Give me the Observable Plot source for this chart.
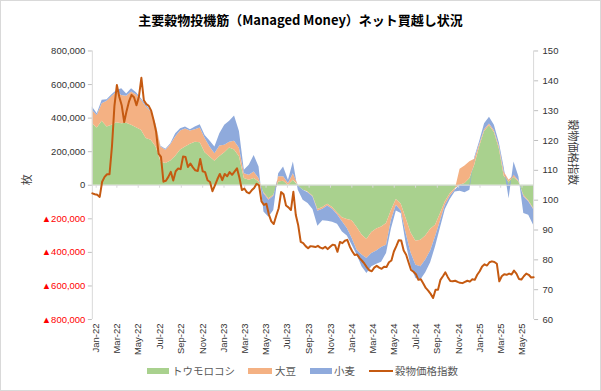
<!DOCTYPE html>
<html><head><meta charset="utf-8">
<script src="https://cdn.jsdelivr.net/npm/d3@7"></script>
<script src="https://cdn.jsdelivr.net/npm/@observablehq/plot@0.6"></script>
<style>
body{margin:0;background:#fff;}
#chart{position:relative;width:601px;height:391px;box-sizing:border-box;border:1px solid #d9d9d9;overflow:hidden;background:#fff;}
#title{position:absolute;left:-1px;top:-1px;width:601px;height:40px;line-height:40px;text-align:center;font-family:"Noto Sans CJK JP",sans-serif;font-weight:bold;font-size:13px;color:#000;}
#plot{position:absolute;left:-1px;top:39px;}
.lg{position:absolute;font-family:"Noto Sans CJK JP",sans-serif;font-size:10.5px;color:#595959;line-height:14px;top:363px;white-space:nowrap;}
.sw{position:absolute;}
</style></head>
<body>
<div id="chart">
  <div id="title">主要穀物投機筋（Managed Money）ネット買越し状況</div>
  <div id="plot"></div>
  <div id="legend"></div>
</div>
<script>
// ---- data ----
const startDate = "2021-12-21";   // first observation; positions biweekly, price weekly
const crops = ["トウモロコシ", "大豆", "小麦"];
const cropColors = ["#a9d18e", "#f4b183", "#8faadc"];
const priceLabel = "穀物価格指数";
const priceColor = "#c55a11";

// net positions, thousand contracts, biweekly
const cornK = [367,341,381,347,357,373,367,369,357,343,
327,278,268,228,139,129,145,173,210,228,
244,256,254,194,169,143,171,194,222,210,
170,40,30,40,20,-45,-80,-60,20,24,
0,30,-5,-30,-40,-65,-145,-133,-113,-133,
-165,-194,-204,-212,-252,-297,-323,-282,-260,-248,
-228,-150,-85,-113,-198,-284,-333,-327,-303,-262,
-238,-170,-99,-50,-20,0,10,40,120,230,
320,355,315,218,54,20,46,20,-59,-93,
-139];
const soyK = [79,75,105,153,172,182,168,162,198,196,
179,188,168,129,89,80,97,115,113,107,
79,75,87,84,59,45,63,44,34,52,
50,29,29,39,20,-5,-10,-5,30,26,
10,39,0,0,-5,-5,-10,-10,-10,-10,
-10,-24,-54,-105,-135,-119,-113,-124,-131,-123,
-129,-60,-34,-40,-90,-119,-143,-159,-143,-129,
-69,-45,-20,-15,-10,95,105,100,35,15,
10,10,10,15,25,10,14,5,-10,-5,
-5];
const wheatK = [20,10,20,10,10,10,40,12,20,12,
10,10,5,5,5,5,6,19,14,12,
8,16,20,19,36,40,73,119,125,150,
100,20,60,99,69,-110,-100,-85,19,59,
20,70,-25,-59,-64,-75,-89,-69,-91,-77,
-57,-60,-45,-40,-29,-70,-89,-80,-79,-87,
-49,-50,-34,-16,-59,-79,-79,-79,-76,-71,
-60,-40,-26,-20,-10,-35,-45,-30,10,15,
37,40,32,20,26,-80,79,25,-99,-80,
-94];
// grain price index, weekly
const priceIndex = [102.3,102.0,101.8,101.1,106.2,107.8,108.7,108.7,118,131.5,
138.6,134.6,131.7,126.2,130,133.2,135.3,134.5,131.8,134.7,
141,133.5,132.2,131.6,130,126.8,123,115.6,114.5,106.2,
106.5,107.8,109.5,106.6,109.7,110.6,110.4,114.6,114.5,111.1,
112.3,111,110,109.8,113.8,109.7,109.4,106.7,106.1,103,
105,107,108.8,106.7,108.8,108,109.4,108.5,109.6,110.7,
107.5,103.4,103.9,102.7,102.3,103.3,104.1,105.5,105,99.6,
98.4,98.8,95.2,92.9,92,94.8,97.3,102.7,102,98.2,
97.6,96.7,102.8,95,91.5,86,85.6,84.6,83.9,84.6,
84.5,84.3,84.7,84.1,83.8,84.4,83.6,84.4,85.1,84.9,
82.7,86,85.6,86.4,86.7,84.5,82.9,81.6,81.8,80.6,
79.7,78.7,77.5,76.5,76.2,77.4,78,77.4,77,77.7,
77.6,79.2,79.8,82.8,84.6,86.6,86.5,83.1,81.7,79.1,
76.6,76,75.2,73.3,73.5,72.1,70.6,69.7,68.6,67.2,
70,70,73.3,74.5,75.8,74.2,72.9,72.8,73,72.6,
72.3,72.2,72.6,73,72.7,73.5,73.3,75,76.2,77.8,
78.5,78.1,79.2,79.5,79.3,78.7,72.8,74.5,75.2,75,
75.4,75.1,76.4,75.4,73.6,73.4,74.5,75.4,75,74.1,
74.2];

const leftTicks = [800000,600000,400000,200000,0,-200000,-400000,-600000,-800000];
const rightTicks = [150,140,130,120,110,100,90,80,70,60];
const xTickDates = ["2022-01-01","2022-03-01","2022-05-01","2022-07-01","2022-09-01","2022-11-01",
"2023-01-01","2023-03-01","2023-05-01","2023-07-01","2023-09-01","2023-11-01",
"2024-01-01","2024-03-01","2024-05-01","2024-07-01","2024-09-01","2024-11-01",
"2025-01-01","2025-03-01","2025-05-01"];

// ---- build tables ----
const start = new Date(startDate + "T00:00:00Z");
const posDates = cornK.map((_, i) => d3.utcDay.offset(start, 14 * i));
const priceDates = priceIndex.map((_, i) => d3.utcDay.offset(start, 7 * i));
const series = [cornK, soyK, wheatK];
const rows = [];
posDates.forEach((d, i) => crops.forEach((c, j) => rows.push({date: d, crop: c, value: series[j][i] * 1000})));
const yMax = 800000, pMid = 105, pHalf = 45;
const toY = p => (p - pMid) * yMax / pHalf;
const fromY = v => v * pHalf / yMax + pMid;
const priceRows = priceDates.map((d, i) => ({date: d, yv: toY(priceIndex[i])}));
const xTicks = xTickDates.map(s => new Date(s + "T00:00:00Z"));
const xDomain = [posDates[0], posDates[posDates.length - 1]];
const fmt = d3.format(",");

const chart = Plot.plot({
  width: 601, height: 318,
  marginTop: 10.5, marginBottom: 38.5, marginLeft: 92, marginRight: 67,
  style: {fontFamily: "'Liberation Sans', Arial, sans-serif", fontSize: "9.5px", color: "#333", background: "transparent"},
  x: {type: "utc", domain: xDomain, axis: null, label: null},
  y: {domain: [-yMax, yMax], axis: null, label: null},
  color: {domain: crops, range: cropColors},
  marks: [
    Plot.areaY(rows, {x: "date", y: "value", fill: "crop", order: crops}),
    Plot.ruleY([0], {stroke: "#d9d9d9", strokeWidth: 1.2}),
    Plot.ruleX(xTicks, {x: d => d, y1: 0, y2: 0, insetBottom: -3, stroke: "#d9d9d9"}),
    Plot.ruleX(xDomain, {stroke: "#d9d9d9"}),
    Plot.axisY(leftTicks.filter(v => v >= 0), {anchor: "left", tickSize: 4, tickPadding: 3, stroke: "#bfbfbf", fill: "#333", tickFormat: fmt, label: null}),
    Plot.axisY(leftTicks.filter(v => v < 0), {anchor: "left", tickSize: 4, tickPadding: 3, stroke: "#bfbfbf", fill: "#ff0000", tickFormat: v => "▲" + fmt(-v), label: null}),
    Plot.axisY(rightTicks.map(toY), {anchor: "right", tickSize: 4, tickPadding: 5, stroke: "#bfbfbf", fill: "#333", tickFormat: v => String(Math.round(fromY(v))), label: null}),
    Plot.axisX(xTicks, {anchor: "bottom", tickRotate: -90, tickSize: 0, tickPadding: 4, fill: "#333", tickFormat: d3.utcFormat("%b-%y"), label: null}),
    Plot.lineY(priceRows, {x: "date", y: "yv", stroke: priceColor, strokeWidth: 2}),
    Plot.text(["枚"], {frameAnchor: "left", dx: -65, rotate: -90, fontFamily: "Noto Sans CJK JP", fontSize: 11, fill: "#404040"}),
    Plot.text([priceLabel], {frameAnchor: "right", dx: 39, rotate: 90, fontFamily: "Noto Sans CJK JP", fontSize: 11, fill: "#404040"})
  ]
});
document.getElementById("plot").appendChild(chart);

// ---- legend ----
const legend = document.getElementById("legend");
const items = [
  {label: crops[0], color: cropColors[0], sx: 147, sw: 22, tx: 172, line: false},
  {label: crops[1], color: cropColors[1], sx: 248, sw: 24, tx: 275, line: false},
  {label: crops[2], color: cropColors[2], sx: 310, sw: 22, tx: 334, line: false},
  {label: priceLabel, color: priceColor, sx: 369, sw: 24, tx: 395, line: true}
];
items.forEach(it => {
  const s = document.createElement("div");
  s.className = "sw";
  s.style.left = (it.sx - 1) + "px";
  s.style.width = it.sw + "px";
  s.style.height = (it.line ? 2 : 6) + "px";
  s.style.top = (it.line ? 369 : 367) + "px";
  s.style.background = it.color;
  legend.appendChild(s);
  const t = document.createElement("div");
  t.className = "lg";
  t.style.left = (it.tx - 1) + "px";
  t.textContent = it.label;
  legend.appendChild(t);
});
</script>
</body></html>
